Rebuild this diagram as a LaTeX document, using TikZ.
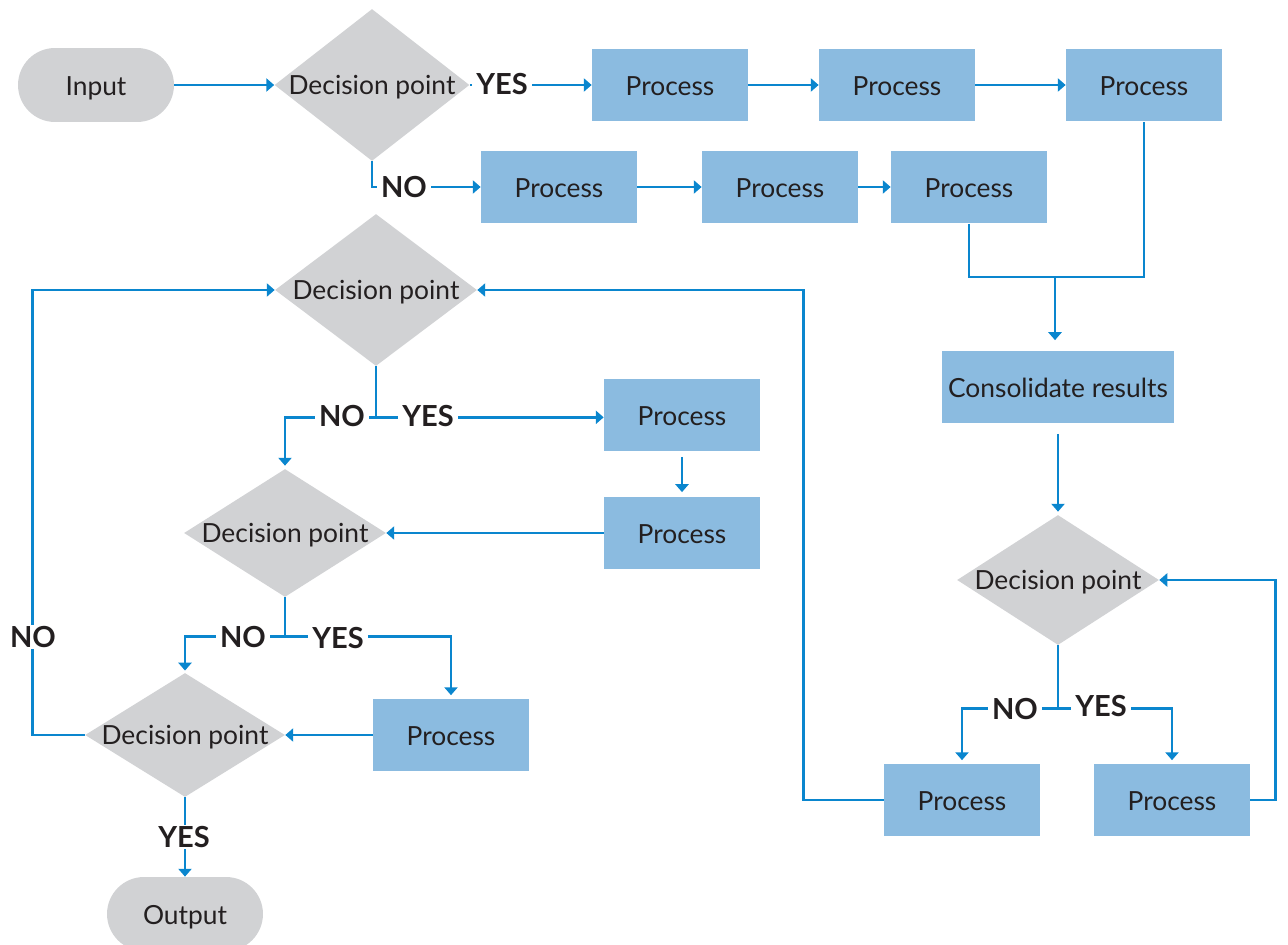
\documentclass[tikz,border=0pt]{standalone}
\usepackage{fontspec}
\setmainfont{Lato}
\usetikzlibrary{shapes.geometric,shapes.misc,arrows.meta}
\definecolor{flowblue}{HTML}{0A86CE}
\definecolor{boxblue}{HTML}{8BBBE0}
\definecolor{diagray}{HTML}{D1D2D4}
\definecolor{ink}{HTML}{231F20}
\newcommand{\boxfont}{\fontsize{15}{18}\selectfont}
\newcommand{\tagfont}{\bfseries\fontsize{16.5}{19}\selectfont}

\begin{document}
\begin{tikzpicture}[x=0.02cm,y=-0.02cm,
  proc/.style={rectangle, fill=boxblue, minimum width=3.12cm, minimum height=1.46cm,
    inner sep=0, text=ink, font=\boxfont, text depth=0pt, text height=12.5pt},
  term/.style={rounded rectangle, fill=diagray, minimum width=3.12cm, minimum height=1.48cm,
    inner sep=0, text=ink, font=\boxfont, text depth=0pt, text height=12pt},
  dec/.style={diamond, fill=diagray, inner sep=0,
    label={[text=ink, font=\boxfont, yshift=-1.5pt]center:Decision point}},
  tag/.style={fill=white, inner xsep=2.5pt, inner ysep=1pt, text=ink, font=\tagfont},
  flow/.style={draw=flowblue, line width=1.5pt},
  arr/.style={flow, -{Triangle[length=4.5pt,width=7.5pt]}},
]
\useasboundingbox (0,0) rectangle (1288,945);
\clip (0,0) rectangle (1288,945);

% terminals
\node[term] (in)  at (96,85)  {Input};
\node[term] (out) at (185,914) {Output};

% decisions
\node[dec, minimum width=3.9cm,  minimum height=3.04cm] (d1) at (372,85)  {};
\node[dec, minimum width=4.04cm, minimum height=3.04cm] (d2) at (376,290) {};
\node[dec, minimum width=4.04cm, minimum height=2.56cm] (d3) at (285,533) {};
\node[dec, minimum width=4.0cm,  minimum height=2.48cm] (d4) at (185,735) {};
\node[dec, minimum width=4.04cm, minimum height=2.6cm]  (d5) at (1058,580) {};

% processes
\node[proc] (p1) at (670,85)  {Process};
\node[proc] (p2) at (897,85)  {Process};
\node[proc] (p3) at (1144,85) {Process};
\node[proc] (p4) at (559,187) {Process};
\node[proc] (p5) at (780,187) {Process};
\node[proc] (p6) at (969,187) {Process};
\node[proc, minimum width=4.64cm] (cons) at (1058,387) {Consolidate results};
\node[proc] (p9)  at (682,415) {Process};
\node[proc] (p10) at (682,533) {Process};
\node[proc] (p11) at (451,735) {Process};
\node[proc] (p7)  at (962,800) {Process};
\node[proc] (p8)  at (1172,800) {Process};

% top branch
\draw[arr] (in.east) -- (d1.west);
\draw[arr] (d1.east) -- (p1.west);
\draw[arr] (p1) -- (p2);
\draw[arr] (p2) -- (p3);
\draw[arr] (d1.south) |- (p4.west);
\draw[arr] (p4) -- (p5);
\draw[arr] (p5) -- (p6);

% merge into consolidation
\coordinate (m) at (1055,277);
\draw[flow] (p3.south) |- (m);
\draw[flow] (p6.south) |- (m);
\draw[arr, shorten >=5.7pt] (m) -- (m |- cons.north);
\draw[arr, shorten <=5.7pt, shorten >=1.7pt] (cons.south) -- (d5.north);

% right decision
\draw[flow] (d5.south) -- ++(0,63) coordinate (s5);
\draw[arr, shorten >=1.7pt] (s5) -| (p7.north);
\draw[arr, shorten >=1.7pt] (s5) -| (p8.north);
\draw[arr] (p8.east) -- ++(25,0) |- (d5.east);
\draw[arr] (p7.west) -- ++(-80,0) |- (d2.east);

% second decision
\draw[flow] (d2.south) -- ++(0,51) coordinate (s2);
\draw[arr, shorten >=1.7pt] (s2) -| (d3.north);
\draw[arr] (s2) -- (s2 -| p9.west);
\draw[arr, shorten <=2.8pt, shorten >=2.3pt] (p9.south) -- (p10.north);
\draw[arr] (p10.west) -- (d3.east);

% third decision
\draw[flow] (d3.south) -- ++(0,39) coordinate (s3);
\draw[arr, shorten >=1.2pt] (s3) -| (d4.north);
\draw[arr, shorten >=1.7pt] (s3) -| (p11.north);
\draw[arr] (p11.west) -- (d4.east);

% fourth decision
\draw[arr] (d4.west) -- ++(-52,0) |- (d2.west);
\draw[arr] (d4.south) -- (out.north);

% branch labels
\node[tag] (y1) at (502,84)   {YES};
\node[tag] (n1) at (404,187)  {NO};
\node[tag] (n2) at (342,416)  {NO};
\node[tag] (y2) at (428,416)  {YES};
\node[tag] (n3) at (243,637)  {NO};
\node[tag] (y3) at (338,638)  {YES};
\node[tag] (n5) at (1015,709) {NO};
\node[tag] (y5) at (1101,706) {YES};
\node[tag] (n4) at (33,637)   {NO};
\node[tag] (y4) at (184,837)  {YES};
\end{tikzpicture}
\end{document}
